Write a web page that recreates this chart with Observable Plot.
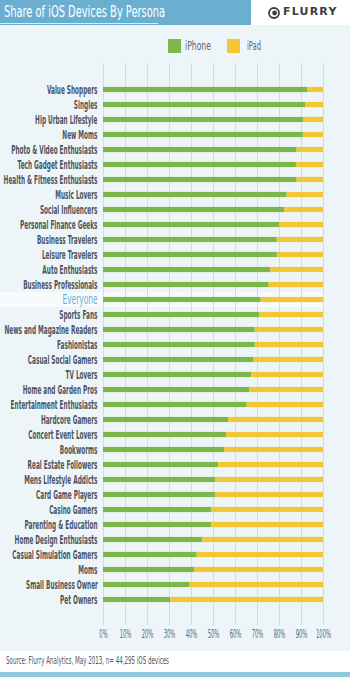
<!DOCTYPE html>
<html><head><meta charset="utf-8">
<script src="https://cdn.jsdelivr.net/npm/d3@7"></script>
<script src="https://cdn.jsdelivr.net/npm/@observablehq/plot@0.6"></script>
<style>
body{margin:0;background:#eef5f9;width:350px;height:677px;overflow:hidden;font-family:"DejaVu Sans Condensed","DejaVu Sans",sans-serif;position:relative;}
#banner{position:absolute;left:0;top:0;width:251px;height:25px;background:#6aafd0;}
#title{position:absolute;left:4px;top:2px;color:#fff;font-size:16px;white-space:nowrap;transform-origin:left center;}
#uline{position:absolute;left:0;top:23px;width:158px;height:1px;background:#d8eef7;}
#logo{position:absolute;left:251px;top:0;width:99px;height:25px;background:#fff;}
#logo svg{position:absolute;left:17px;top:7px;}
#logotxt{position:absolute;left:32px;top:5px;font-family:"DejaVu Sans",sans-serif;font-weight:bold;font-size:11px;letter-spacing:1.2px;color:#3d3d3d;}
.sw{position:absolute;top:39px;width:13px;height:14px;}
.lt{position:absolute;top:39px;font-size:11.5px;color:#5a6570;white-space:nowrap;transform-origin:left center;}
#chart{position:absolute;left:0;top:58px;}
#srcband{position:absolute;left:0;top:651px;width:350px;height:21px;background:#fff;}
#src{position:absolute;left:6px;top:655px;font-size:10px;color:#4c5663;white-space:nowrap;transform-origin:left center;}
#bline{position:absolute;left:0;top:672px;width:350px;height:5px;background:#8ec9dc;}
</style></head>
<body>
<div id="banner"><div id="title">Share of iOS Devices By Persona</div><div id="uline"></div></div>
<div id="logo"><svg width="12" height="12" viewBox="0 0 12 12"><circle cx="6" cy="6" r="5" fill="none" stroke="#3d3d3d" stroke-width="1.8"/><circle cx="6.6" cy="6" r="2.4" fill="#3d3d3d"/></svg><div id="logotxt">FLURRY</div></div>
<div class="sw" style="left:168px;background:#7db74c"></div><div class="lt" id="lg1" style="left:185px">iPhone</div>
<div class="sw" style="left:227px;background:#f2c634"></div><div class="lt" id="lg2" style="left:247px">iPad</div>
<div id="chart"></div>
<div id="srcband"></div>
<div id="src">Source: Flurry Analytics, May 2013, n= 44,295 iOS devices</div>
<div id="bline"></div>
<script>
const personas = ["Value Shoppers","Singles","Hip Urban Lifestyle","New Moms","Photo & Video Enthusiasts","Tech Gadget Enthusiasts","Health & Fitness Enthusiasts","Music Lovers","Social Influencers","Personal Finance Geeks","Business Travelers","Leisure Travelers","Auto Enthusiasts","Business Professionals","Everyone","Sports Fans","News and Magazine Readers","Fashionistas","Casual Social Gamers","TV Lovers","Home and Garden Pros","Entertainment Enthusiasts","Hardcore Gamers","Concert Event Lovers","Bookworms","Real Estate Followers","Mens Lifestyle Addicts","Card Game Players","Casino Gamers","Parenting & Education","Home Design Enthusiasts","Casual Simulation Gamers","Moms","Small Business Owner","Pet Owners"];
const iphoneShare = [93,92,91,91,88,87.7,88,83.5,82.4,80,79,79,76,75.3,71.7,71,69,69,68.2,67.3,66.4,65.3,56.8,56,55.2,52.3,51.1,51.1,49.2,49.2,45.2,42.6,41.5,39.4,30.6];
const ipadShare = [7,8,9,9,12,12.3,12,16.5,17.6,20,21,21,24,24.7,28.3,29,31,31,31.8,32.7,33.6,34.7,43.2,44,44.8,47.7,48.9,48.9,50.8,50.8,54.8,57.4,58.5,60.6,69.4];
const devices = ["iPhone","iPad"];
const xTicks = [0,10,20,30,40,50,60,70,80,90,100];
const highlight = ["Everyone"];

const data = personas.flatMap((p,i)=>[
  {persona:p, device:devices[0], share:iphoneShare[i]},
  {persona:p, device:devices[1], share:ipadShare[i]}
]);
const others = personas.filter(p=>!highlight.includes(p));
const font = '"DejaVu Sans Condensed","DejaVu Sans",sans-serif';

const chart = Plot.plot({
  width:350, height:590,
  marginLeft:103, marginRight:27, marginTop:10, marginBottom:27,
  style:{background:"transparent", fontFamily:font, overflow:"visible"},
  x:{domain:[0,100], axis:null},
  y:{domain:personas, padding:0, axis:null},
  color:{domain:devices, range:["#7db74c","#f2c634"]},
  marks:[
    Plot.barX(highlight,{y:d=>d, x1:0, x2:100, fill:"#f8fbfd", insetLeft:-103}),
    Plot.ruleX(xTicks,{x:d=>d, stroke:"#d5dce1", strokeWidth:1, insetTop:-5, insetBottom:-4}),
    Plot.barX(data,{y:"persona", x:"share", fill:"device", insetTop:4.9, insetBottom:4.9}),
    Plot.text(others,{y:d=>d, text:d=>d, frameAnchor:"left", textAnchor:"end", dx:-6, fill:"#4d555e", fontSize:11.5, fontWeight:"bold"}),
    Plot.text(highlight,{y:d=>d, text:d=>d, frameAnchor:"left", textAnchor:"end", dx:-6, fill:"#6ab0d4", fontSize:13.5}),
    Plot.text(xTicks,{x:d=>d, text:d=>d+"%", frameAnchor:"bottom", dy:16, fill:"#5a6570", fontSize:12})
  ]
});
document.getElementById("chart").appendChild(chart);

// condense SVG labels horizontally about their anchor, to match the narrow typeface of the original
const NS = "http://www.w3.org/2000/svg";
const texts = Array.from(chart.querySelectorAll("text"));
const widthOf = s => { const t = texts.find(e => e.textContent === s); return t ? t.getBBox().width : 0; };
const wH = widthOf("Health & Fitness Enthusiasts"), wE = widthOf("Everyone"), wX = widthOf("100%");
const kY = wH > 0 ? 94 / wH : 1, kE = wE > 0 ? 35 / wE : 1, kX = wX > 0 ? 15 / wX : 1;
const jobs = texts.map(t => {
  const s = t.textContent;
  const isTick = s.endsWith("%");
  const k = highlight.includes(s) ? kE : isTick ? kX : kY;
  const b = t.getBBox();
  const px = isTick ? b.x + b.width / 2 : b.x + b.width, py = b.y + b.height / 2;
  const tl = t.transform && t.transform.baseVal && t.transform.baseVal.numberOfItems ? t.transform.baseVal.consolidate().matrix : null;
  const ax = tl ? tl.a * px + tl.c * py + tl.e : px;
  const ay = tl ? tl.b * px + tl.d * py + tl.f : py;
  return {t, k, ax, ay};
});
for (const {t, k, ax, ay} of jobs) {
  if (!(k > 0 && k < 1) || !isFinite(ax) || !isFinite(ay)) continue;
  const g = document.createElementNS(NS, "g");
  g.setAttribute("transform", `translate(${ax.toFixed(2)},${ay.toFixed(2)}) scale(${k.toFixed(4)},1) translate(${(-ax).toFixed(2)},${(-ay).toFixed(2)})`);
  t.parentNode.insertBefore(g, t);
  g.appendChild(t);
}
// condense HTML texts
function fit(id, w){ const el=document.getElementById(id); const r=el.getBoundingClientRect().width; el.style.transform=`scaleX(${w/r})`; }
fit("title",161); fit("lg1",26); fit("lg2",14); fit("src",163);
</script>
</body></html>
